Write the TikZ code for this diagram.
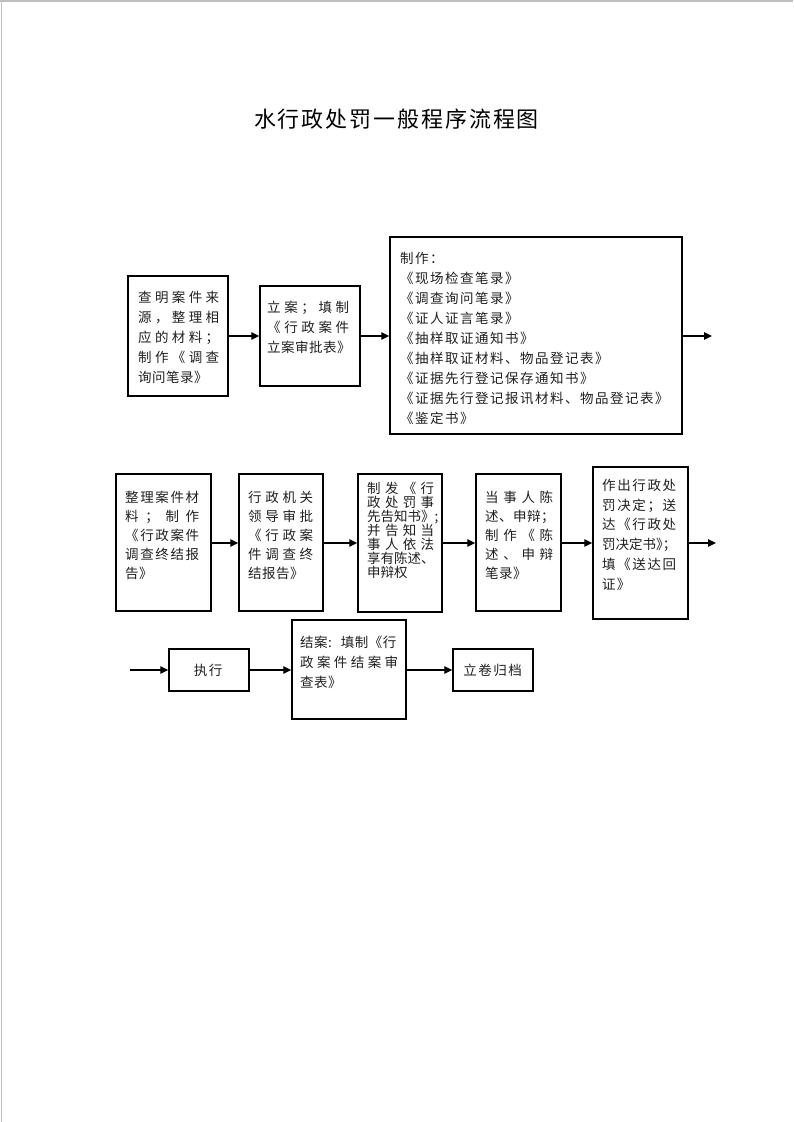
\documentclass[tikz,border=0pt]{standalone}
\usepackage{fontspec}
\setmainfont{Noto Sans CJK SC}
\usetikzlibrary{arrows.meta}
\makeatletter
\def\spr@aux#1#2{#1\ifx\relax#2\else\spr@gap\expandafter\spr@aux\expandafter#2\fi}
\newlength\bw
\newlength\cgap
\newcommand\jl[1]{\makebox[\bw][s]{\def\spr@gap{\hfil}\spr@aux#1\relax}}
\newcommand\nl[1]{\mbox{\def\spr@gap{\hskip\cgap\relax}\spr@aux#1\relax}}
\makeatother
\newcommand\rqsc{》\kern-6.75pt；}
\newcommand\jsp{\hspace{8pt}}
\newcommand\textlines[5]{\foreach \lineitem [count=\i from 0] in {#5}{\node[txt] (#1-\i) at (#2,{#3+\i*#4}) {\lineitem};}}
\begin{document}
\begin{tikzpicture}[x=1pt, y=-1pt,
  txt/.style={anchor=west, inner sep=0pt, font=\fontsize{13.5pt}{15pt}\selectfont,
    text height=11.88pt, text depth=1.62pt, text=black!88},
  box/.style={draw, line width=1.5pt, inner sep=0pt},
  arr/.style={line width=1.3pt, -{Triangle[length=8pt, width=7.5pt]}}]
\useasboundingbox (0,0) rectangle (793,1122);
% page border
\draw[gray!50, line width=1.7pt] (0,1) -- (793,1);
\draw[gray!50, line width=1.7pt] (1.5,0) -- (1.5,1122);
% title
\setlength\cgap{1.9pt}
\node[inner sep=0pt, font=\fontsize{22pt}{26pt}\selectfont, text height=19.36pt, text depth=2.64pt] (title) at (396.5,119.5) {\nl{水行政处罚一般程序流程图}};
% boxes
\node[box, minimum width=100pt, minimum height=120pt] (A) at (178,336) {};
\node[box, minimum width=100pt, minimum height=100pt] (B) at (310,336) {};
\node[box, minimum width=292pt, minimum height=197pt] (C) at (536,335.5) {};
\node[box, minimum width=95pt, minimum height=137pt] (D) at (163.5,542.5) {};
\node[box, minimum width=84pt, minimum height=137pt] (E) at (281,542.5) {};
\node[box, minimum width=84pt, minimum height=138pt] (F) at (400,543) {};
\node[box, minimum width=85pt, minimum height=137pt] (G) at (518.5,542.5) {};
\node[box, minimum width=95pt, minimum height=152pt] (H) at (640.5,543) {};
\node[box, minimum width=80pt, minimum height=42pt] (I) at (209,670) {};
\node[box, minimum width=114pt, minimum height=99pt] (J) at (349,669.5) {};
\node[box, minimum width=80pt, minimum height=42pt] (K) at (493,670) {};
% texts
\setlength\cgap{0.5pt}
\setlength\bw{81pt}
\textlines{At}{138}{297}{20}{\jl{查明案件来},\jl{源，整理相},\jl{应的材料；},\jl{制作《调查},\nl{询问笔录》}}
\setlength\bw{82pt}
\textlines{Bt}{267}{307}{20}{\jl{立案；填制},\jl{《行政案件},\nl{立案审批表》}}
\setlength\cgap{1.5pt}
\textlines{Ct}{400}{258}{20}{\nl{制作：},\nl{《现场检查笔录》},\nl{《调查询问笔录》},\nl{《证人证言笔录》},\nl{《抽样取证通知书》},\nl{《抽样取证材料、物品登记表》},\nl{《证据先行登记保存通知书》},\nl{《证据先行登记报讯材料、物品登记表》},\nl{《鉴定书》}}
\setlength\cgap{0.5pt}
\setlength\bw{74pt}
\textlines{Dt}{125}{497}{19.1}{\jl{整理案件材},\jl{料；制作},\jl{《行政案件},\jl{调查终结报},\nl{告》}}
\setlength\bw{65pt}
\textlines{Et}{248}{497}{19.1}{\jl{行政机关},\jl{领导审批},\jl{《行政案},\jl{件调查终},\nl{结报告》}}
\setlength\cgap{0pt}
\setlength\bw{67pt}
\textlines{Ft}{367}{488}{14}{\jl{制发《行},\jl{政处罚事},\nl{先告知书》;},\jl{并告知当},\jl{事人依法},\nl{享有陈述、},\nl{申辩权}}
\setlength\cgap{0.5pt}
\setlength\bw{68pt}
\textlines{Gt}{485}{497}{19.1}{\jl{当事人陈},\nl{述、申辩；},\jl{制作《陈},\jl{述、申辩},\nl{笔录》}}
\setlength\cgap{1.1pt}
\setlength\bw{74pt}
\textlines{Ht}{602}{485}{19.9}{\jl{作出行政处},\jl{罚决定；送},\jl{达《行政处},\jl{罚决定书\rqsc},\jl{填《送达回},\nl{证》}}
\setlength\cgap{0.5pt}
\setlength\bw{98pt}
\textlines{Jt}{300}{642}{20}{\nl{结案:\jsp 填制《行},\jl{政案件结案审},\nl{查表》}}
\setlength\cgap{1.5pt}
\node[txt, anchor=center] (It) at (208,670) {\nl{执行}};
\setlength\cgap{1.5pt}
\node[txt, anchor=center] (Kt) at (492.5,670) {\nl{立卷归档}};
% free ends
\coordinate (outC) at (712,336);
\coordinate (outH) at (716,543);
\coordinate (inI) at (130,670);
% connectors
\draw[arr] (A.east |- 0,336) -- (B.west |- 0,336);
\draw[arr] (B.east |- 0,336) -- (C.west |- 0,336);
\draw[arr] (C.east |- outC) -- (outC);
\draw[arr] (D.east |- 0,543) -- (E.west |- 0,543);
\draw[arr] (E.east |- 0,543) -- (F.west |- 0,543);
\draw[arr] (F.east |- 0,543) -- (G.west |- 0,543);
\draw[arr] (G.east |- 0,543) -- (H.west |- 0,543);
\draw[arr] (H.east |- outH) -- (outH);
\draw[arr] (inI) -- (I.west |- inI);
\draw[arr] (I.east |- inI) -- (J.west |- inI);
\draw[arr] (J.east |- inI) -- (K.west |- inI);
\end{tikzpicture}
\end{document}
